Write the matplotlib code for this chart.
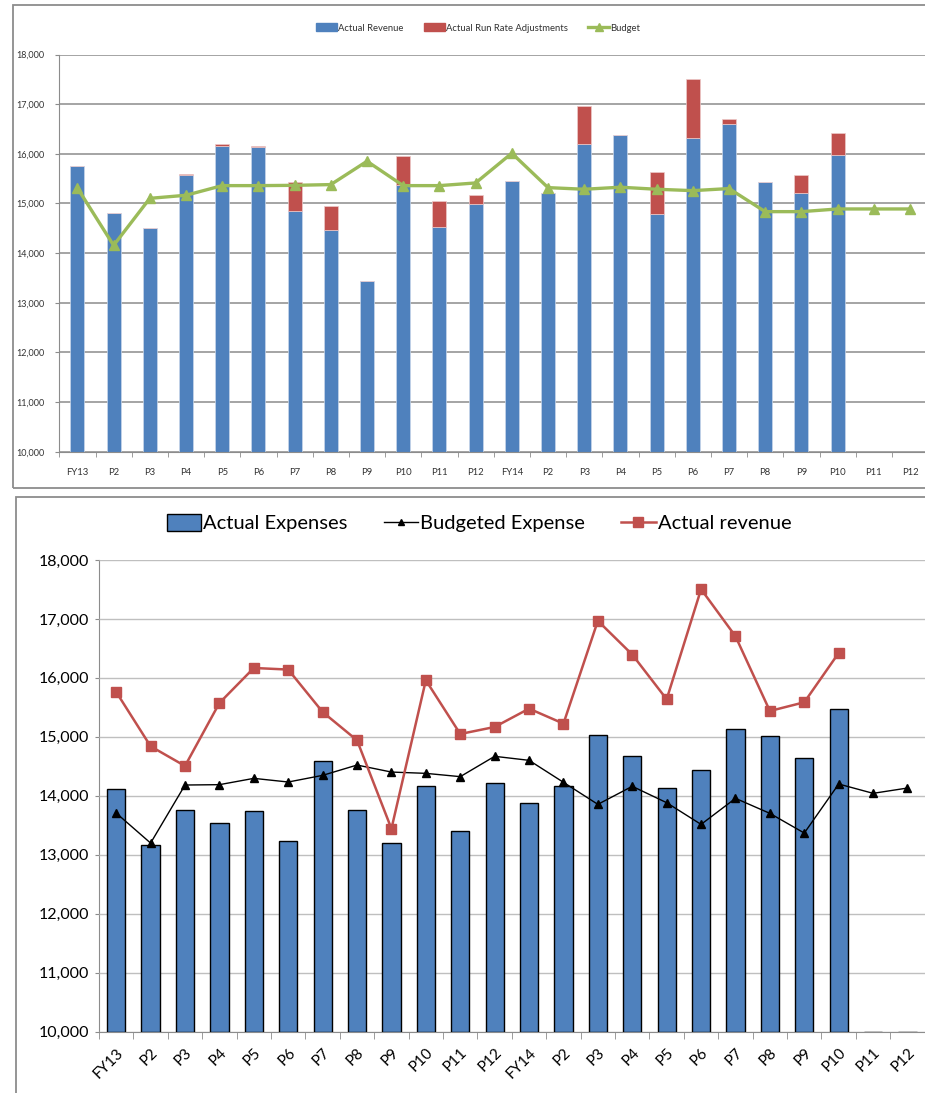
import numpy as np
import matplotlib.pyplot as plt
from matplotlib.patches import Rectangle, Patch
from matplotlib.lines import Line2D
from matplotlib.ticker import FuncFormatter, FixedLocator

plt.rcParams["font.family"] = ["Lato", "DejaVu Sans"]

periods = ["FY13", "P2", "P3", "P4", "P5", "P6", "P7", "P8", "P9", "P10", "P11", "P12",
           "FY14", "P2", "P3", "P4", "P5", "P6", "P7", "P8", "P9", "P10", "P11", "P12"]

# top chart
actual_revenue = [15750, 14810, 14510, 15575, 16165, 16145, 14855, 14465, 13445, 15380, 14520, 14980,
                  15460, 15218, 16200, 16388, 14790, 16327, 16597, 15433, 15218, 15978, np.nan, np.nan]
run_rate_adj = [0, 0, 0, 25, 27, 20, 570, 485, 0, 585, 537, 200,
                0, 0, 760, 0, 840, 1170, 100, 0, 350, 437, np.nan, np.nan]
budget = [15312, 14155, 15103, 15165, 15359, 15359, 15365, 15380, 15850, 15359, 15359, 15413,
          16012, 15319, 15286, 15327, 15286, 15258, 15300, 14835, 14835, 14889, 14889, 14889]

# bottom chart
actual_expenses = [14120, 13170, 13752, 13537, 13740, 13226, 14584, 13752, 13197, 14171, 13396, 14216,
                   13871, 14160, 15037, 14674, 14131, 14431, 15139, 15008, 14647, 15472, 10000, 10000]
budgeted_expense = [13706, 13197, 14182, 14188, 14295, 14233, 14346, 14521, 14402, 14380, 14324, 14669,
                    14601, 14228, 13854, 14160, 13882, 13514, 13956, 13701, 13367, 14199, 14041, 14131]
actual_rev_line = [15761, 14839, 14505, 15574, 16168, 16141, 15421, 14941, 13441, 15960, 15048, 15167,
                   15478, 15224, 16968, 16395, 15637, 17504, 16706, 15438, 15586, 16423, np.nan, np.nan]

W, H = 925, 1093
BLUE = "#4F81BD"
RED = "#C0504D"
GREEN = "#9BBB59"

fig = plt.figure(figsize=(W / 100, H / 100), dpi=100)


def px_axes(l, t, r, b):
    return fig.add_axes([l / W, 1 - b / H, (r - l) / W, (b - t) / H])


x = np.arange(len(periods))
thousands = FuncFormatter(lambda v, p: f"{int(v):,}")

# frames around the two charts
fig.patches.append(Rectangle((12.5 / W, 1 - 488 / H), 1, (488 - 5) / H, transform=fig.transFigure,
                             fill=False, edgecolor="#8c8c8c", lw=1.3, zorder=0))
fig.patches.append(Rectangle((15.7 / W, -0.1), 1, 0.1 + (1093 - 496.7) / H, transform=fig.transFigure,
                             fill=False, edgecolor="#8c8c8c", lw=1.3, zorder=0))

# ---------- top chart ----------
ax1 = px_axes(59.3, 54.5, 925, 451.7)
sp = 36.2
ax1.set_xlim(-0.5, -0.5 + (925 - 59.3) / sp)
ax1.set_ylim(10000, 18000)
rev = np.array(actual_revenue)
adj = np.array(run_rate_adj)
ax1.bar(x, rev - 10000, bottom=10000, width=0.39, color=BLUE, edgecolor="#c9d7ea", lw=0.5, zorder=2)
ax1.bar(x, adj, bottom=rev, width=0.39, color=RED, edgecolor="#eccaca", lw=0.5, zorder=2)
ax1.plot(x, budget, color=GREEN, lw=2.4, marker="^", ms=7.5, zorder=3)
ax1.set_yticks(range(10000, 18001, 1000))
ax1.yaxis.set_major_formatter(thousands)
ax1.grid(axis="y", color="#8c8c8c", lw=1.1, zorder=0)
ax1.set_xticks(x)
ax1.set_xticklabels(periods)
ax1.xaxis.set_minor_locator(FixedLocator(np.arange(-0.5, 24, 1)))
ax1.tick_params(axis="x", which="major", length=0, pad=12, labelsize=6.8, colors="#333333")
ax1.tick_params(axis="x", which="minor", length=3.5, color="#8c8c8c")
ax1.tick_params(axis="y", length=3, color="#8c8c8c", labelsize=6.5, labelcolor="#333333", pad=8)
for s in ["top", "right"]:
    ax1.spines[s].set_visible(False)
for s in ["left", "bottom"]:
    ax1.spines[s].set_color("#8c8c8c")
ax1.set_axisbelow(True)

h1 = [Patch(color=BLUE), Patch(color=RED),
      Line2D([], [], color=GREEN, lw=2.4, marker="^", ms=6)]
fig.legend(h1, ["Actual Revenue", "Actual Run Rate Adjustments", "Budget"],
           loc="center", bbox_to_anchor=(0.517, 1 - 28 / H), ncol=3, frameon=False,
           fontsize=6.8, handlelength=2.2, handleheight=0.9, handletextpad=0.1,
           columnspacing=2.2, labelcolor="#333333")

# ---------- bottom chart ----------
ax2 = px_axes(99, 560, 924.7, 1031.5)
ax2.set_xlim(-0.5, 23.5)
ax2.set_ylim(10000, 18000)
ax2.bar(x, np.array(actual_expenses) - 10000, bottom=10000, width=0.53, color=BLUE,
        edgecolor="black", lw=1.0, zorder=3)
ax2.plot(x, budgeted_expense, color="black", lw=1.0, marker="^", ms=5.5, zorder=4)
ax2.plot(x, actual_rev_line, color=RED, lw=1.8, marker="s", ms=7, zorder=5)
ax2.set_yticks(range(10000, 18001, 1000))
ax2.yaxis.set_major_formatter(thousands)
ax2.grid(axis="y", color="#bfbfbf", lw=1.0, zorder=0)
ax2.set_xticks(x)
ax2.set_xticklabels(periods, rotation=45, ha="right", rotation_mode="anchor")
ax2.xaxis.set_minor_locator(FixedLocator(np.arange(-0.5, 24, 1)))
ax2.tick_params(axis="x", which="major", length=0, pad=10, labelsize=11)
ax2.tick_params(axis="x", which="minor", length=5, color="#8c8c8c")
ax2.tick_params(axis="y", length=3, color="#8c8c8c", labelsize=11.5, pad=4)
for s in ["top", "right"]:
    ax2.spines[s].set_visible(False)
for s in ["left", "bottom"]:
    ax2.spines[s].set_color("#8c8c8c")
    ax2.spines[s].set_zorder(1)

h2 = [Patch(facecolor=BLUE, edgecolor="black", lw=1.0),
      Line2D([], [], color="black", lw=1.0, marker="^", ms=5),
      Line2D([], [], color=RED, lw=1.8, marker="s", ms=7)]
fig.legend(h2, ["Actual Expenses", "Budgeted Expense", "Actual revenue"],
           loc="center", bbox_to_anchor=(0.518, 1 - 523 / H), ncol=3, frameon=False,
           fontsize=14.5, handlelength=1.7, handleheight=0.9, handletextpad=0.1,
           columnspacing=1.8)

fig.savefig("out.png", dpi=100)
